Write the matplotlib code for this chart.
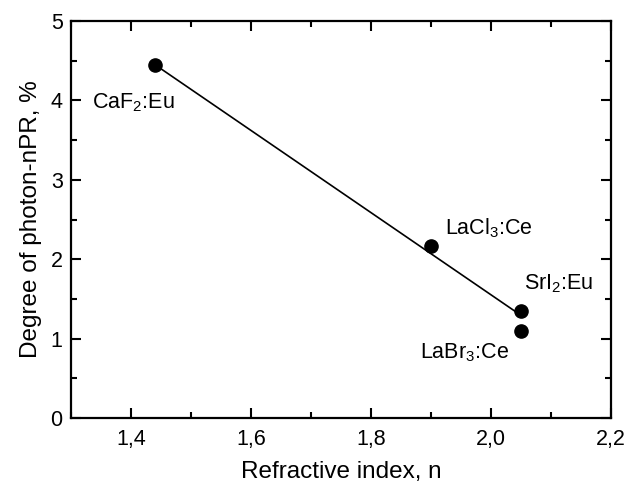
import matplotlib
matplotlib.use('Agg')
import matplotlib.pyplot as plt
from matplotlib.ticker import MultipleLocator, FuncFormatter

plt.rcParams['font.family'] = ['Liberation Sans', 'DejaVu Sans']
plt.rcParams['mathtext.fontset'] = 'custom'
plt.rcParams['mathtext.rm'] = 'Liberation Sans'
plt.rcParams['mathtext.it'] = 'Liberation Sans:italic'

# scintillators: refractive index vs degree of photon-nPR
names = ['CaF$_2$:Eu', 'LaCl$_3$:Ce', 'SrI$_2$:Eu', 'LaBr$_3$:Ce']
n_idx = [1.44, 1.90, 2.05, 2.05]
npr = [4.45, 2.16, 1.35, 1.10]

# linear trend line
fit_x = [1.44, 2.045]
fit_y = [4.45, 1.32]

# label anchors (left, center)
label_x = [1.335, 1.923, 2.055, 1.882]
label_y = [3.97, 2.39, 1.69, 0.82]

fig = plt.figure(figsize=(6.31, 4.91), dpi=100)
ax = fig.add_axes([0.1125, 0.1487, 0.8555, 0.8085])

ax.plot(fit_x, fit_y, '-', color='black', lw=1.2)
ax.plot(n_idx, npr, 'o', color='black', ms=9.5)
for name, lx, ly in zip(names, label_x, label_y):
    ax.text(lx, ly, name, fontsize=15.5, ha='left', va='center')

ax.set_xlim(1.3, 2.2)
ax.set_ylim(0, 5)
ax.xaxis.set_major_locator(MultipleLocator(0.2))
ax.xaxis.set_minor_locator(MultipleLocator(0.1))
ax.yaxis.set_major_locator(MultipleLocator(1))
ax.yaxis.set_minor_locator(MultipleLocator(0.5))
ax.xaxis.set_major_formatter(FuncFormatter(lambda v, p: f'{v:.1f}'.replace('.', ',')))
ax.tick_params(which='both', direction='in', top=True, right=True, width=1.5)
ax.tick_params(which='major', length=7, labelsize=15.5)
ax.tick_params(axis='x', which='major', pad=8)
ax.tick_params(axis='y', which='major', pad=6)
ax.tick_params(which='minor', length=4)
for s in ax.spines.values():
    s.set_linewidth(1.6)

ax.set_xlabel('Refractive index, n', fontsize=17.5, labelpad=8)
ax.set_ylabel('Degree of photon-nPR, %', fontsize=17.5, labelpad=6)

fig.savefig('out.png', dpi=100)
